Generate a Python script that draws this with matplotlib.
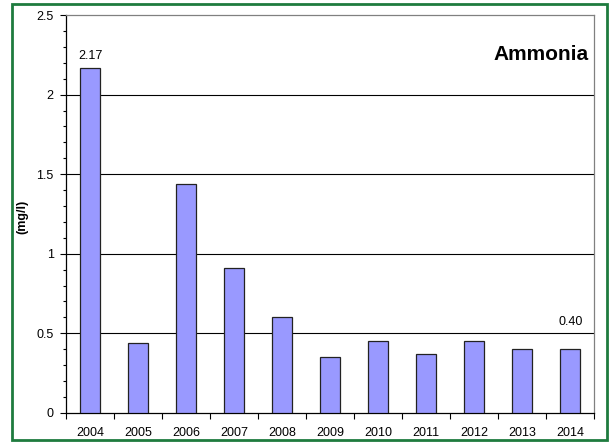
import matplotlib.pyplot as plt
from matplotlib.patches import Rectangle
from matplotlib.ticker import MultipleLocator

# datos
years = ['2004', '2005', '2006', '2007', '2008', '2009', '2010', '2011', '2012', '2013', '2014']
values = [2.17, 0.44, 1.44, 0.91, 0.60, 0.35, 0.45, 0.37, 0.45, 0.40, 0.40]
labels = {0: '2.17', 10: '0.40'}
label_y = {0: 2.24, 10: 0.57}

plt.rcParams['font.family'] = ['Liberation Sans', 'DejaVu Sans']

fig = plt.figure(figsize=(6.12, 4.43), dpi=100)
ax = fig.add_axes([0.108, 0.068, 0.863, 0.898])

x = range(len(years))
ax.bar(x, values, width=0.42, color='#9999FF', edgecolor='#222222', linewidth=0.9, zorder=3)

ax.set_xlim(-0.5, len(years) - 0.5)
ax.set_ylim(0, 2.5)
ax.set_xticks(list(x))
ax.set_xticklabels(years, fontsize=9)
ax.set_xticks([i - 0.5 for i in range(len(years) + 1)], minor=True)
ax.tick_params(axis='x', which='major', length=0, pad=10)
ax.tick_params(axis='x', which='minor', length=4, direction='out', width=0.8)

ax.set_yticks([0, 0.5, 1, 1.5, 2, 2.5])
ax.set_yticklabels(['0', '0.5', '1', '1.5', '2', '2.5'], fontsize=9)
ax.yaxis.set_minor_locator(MultipleLocator(0.1))
ax.tick_params(axis='y', which='major', length=4, direction='out', width=0.8, pad=5)
ax.tick_params(axis='y', which='minor', length=2, direction='out', width=0.8)

for yv in [0.5, 1, 1.5, 2]:
    ax.axhline(yv, color='black', linewidth=0.8, zorder=1)

ax.spines['left'].set_color('black')
ax.spines['bottom'].set_color('black')
ax.spines['top'].set_color('#808080')
ax.spines['right'].set_color('#808080')
for s in ax.spines.values():
    s.set_linewidth(0.9)

for i, t in labels.items():
    ax.text(i, label_y[i], t, ha='center', va='center', fontsize=9)

ax.text(0.99, 0.9, 'Ammonia', transform=ax.transAxes, ha='right', va='center',
        fontsize=15, fontweight='bold')

fig.text(0.036, 0.51, '(mg/l)', rotation=90, ha='center', va='center',
         fontsize=9, fontweight='bold')

# marco verde
fig.patches.append(Rectangle((0.02, 0.006), 0.972, 0.984, transform=fig.transFigure,
                             fill=False, edgecolor='#1E7B3E', linewidth=2))

fig.savefig('out.png', dpi=100)
